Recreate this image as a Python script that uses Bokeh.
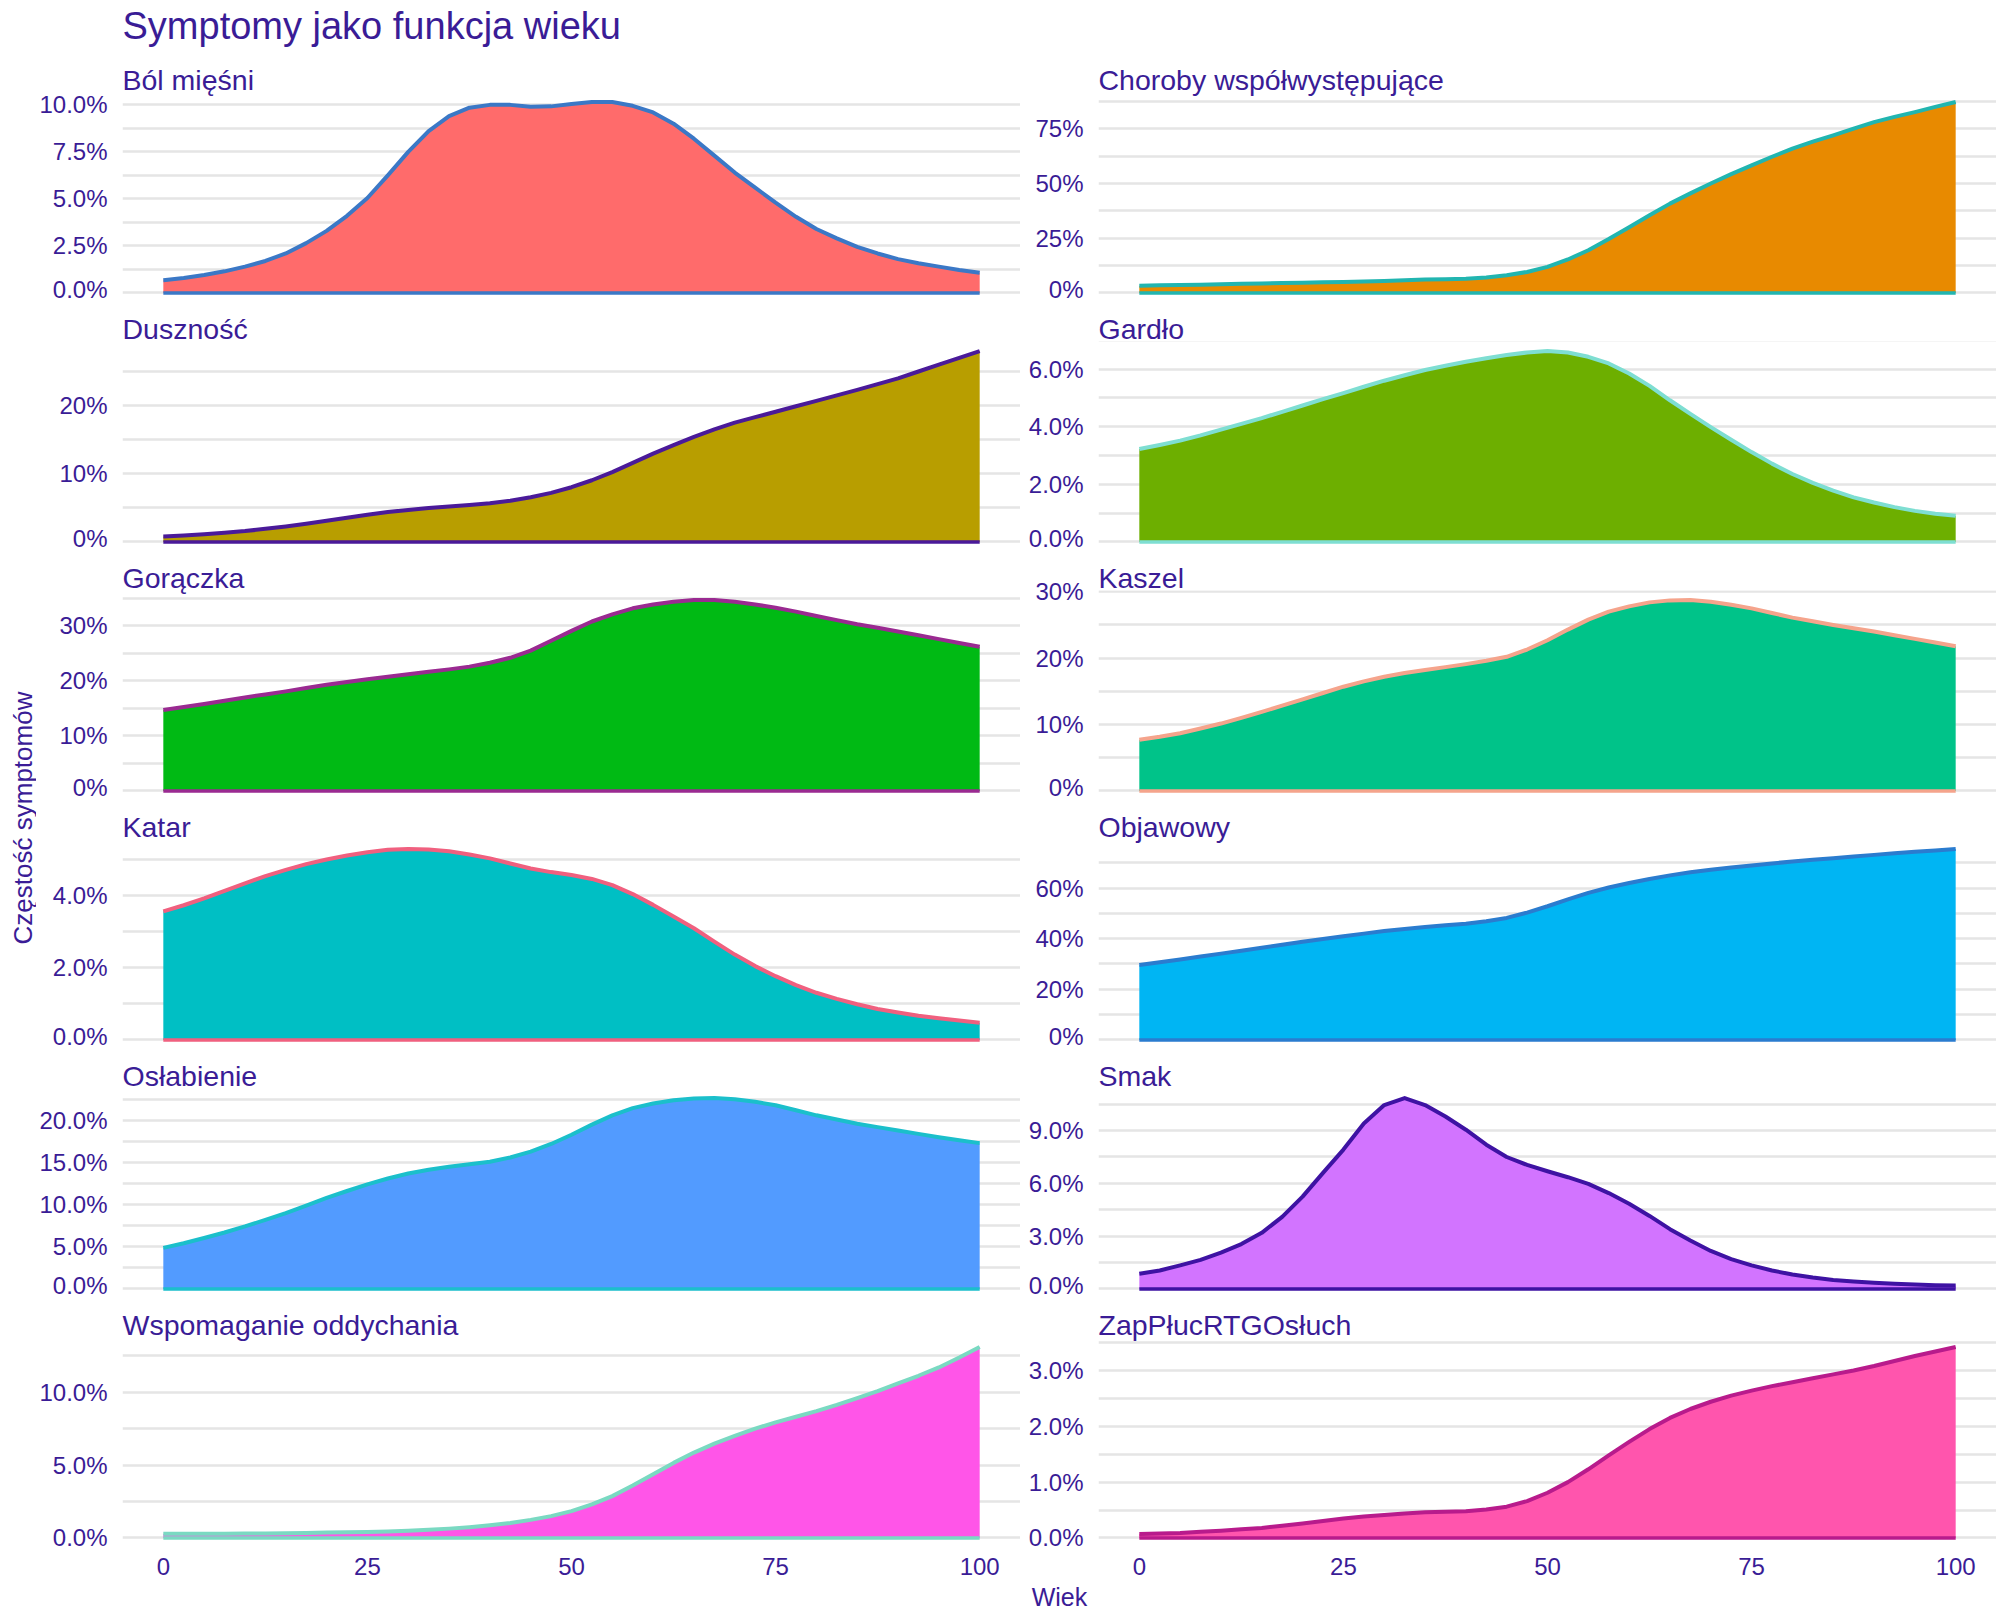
import math
from bokeh.plotting import figure
from bokeh.layouts import row, column
from bokeh.models import Range1d, FixedTicker, PrintfTickFormatter
from bokeh.core.properties import value
from bokeh.embed import file_html
from bokeh.resources import INLINE

# ---------------- data ----------------
main_title = "Symptomy jako funkcja wieku"
x_label = "Wiek"
y_label = "Częstość symptomów"

wiek = [0, 2.5, 5, 7.5, 10, 12.5, 15, 17.5, 20, 22.5, 25, 27.5, 30, 32.5, 35, 37.5, 40,
        42.5, 45, 47.5, 50, 52.5, 55, 57.5, 60, 62.5, 65, 67.5, 70, 72.5, 75, 77.5, 80,
        82.5, 85, 87.5, 90, 92.5, 95, 97.5, 100]
wiek_ticks = [0, 25, 50, 75, 100]

symptomy = ["Ból mięśni", "Choroby współwystępujące", "Duszność", "Gardło",
            "Gorączka", "Kaszel", "Katar", "Objawowy", "Osłabienie", "Smak",
            "Wspomaganie oddychania", "ZapPłucRTGOsłuch"]

# values in percent, read at every 2.5 years of age
bol_miesni = [0.68, 0.8, 0.95, 1.15, 1.4, 1.7, 2.1, 2.65, 3.3, 4.1, 5.05, 6.25, 7.5, 8.6,
              9.4, 9.85, 10.0, 10.0, 9.9, 9.92, 10.05, 10.15, 10.15, 9.95, 9.6, 9.0, 8.2,
              7.3, 6.4, 5.6, 4.8, 4.05, 3.4, 2.9, 2.45, 2.1, 1.8, 1.58, 1.4, 1.22, 1.07]
choroby = [3.3, 3.5, 3.65, 3.8, 4.0, 4.15, 4.3, 4.5, 4.7, 4.85, 5.0, 5.25, 5.5, 5.8,
           6.1, 6.3, 6.5, 7.1, 8.1, 9.6, 11.9, 15.3, 19.5, 24.6, 30.0, 35.5, 40.8, 45.5,
           50.0, 54.3, 58.3, 62.2, 65.9, 69.1, 72.0, 75.1, 78.0, 80.4, 82.6, 85.0, 87.2]
dusznosc = [0.79, 0.95, 1.13, 1.35, 1.6, 1.92, 2.27, 2.67, 3.1, 3.55, 4.0, 4.38, 4.7,
            4.97, 5.2, 5.43, 5.67, 6.05, 6.55, 7.2, 8.03, 9.05, 10.25, 11.6, 12.96, 14.2,
            15.4, 16.5, 17.5, 18.3, 19.1, 19.9, 20.7, 21.5, 22.3, 23.15, 24.0, 25.0,
            26.0, 27.0, 28.0]
gardlo = [3.23, 3.37, 3.52, 3.7, 3.9, 4.1, 4.3, 4.52, 4.74, 4.96, 5.17, 5.39, 5.6, 5.79,
          5.97, 6.12, 6.26, 6.38, 6.49, 6.58, 6.63, 6.58, 6.43, 6.2, 5.85, 5.42, 4.92,
          4.45, 3.99, 3.55, 3.12, 2.72, 2.36, 2.05, 1.78, 1.55, 1.37, 1.21, 1.08, 0.98, 0.91]
goraczka = [14.7, 15.25, 15.8, 16.4, 17.0, 17.55, 18.1, 18.7, 19.3, 19.8, 20.3, 20.75,
            21.2, 21.65, 22.1, 22.6, 23.3, 24.2, 25.5, 27.3, 29.1, 30.8, 32.1, 33.2, 33.9,
            34.4, 34.7, 34.7, 34.4, 33.9, 33.3, 32.6, 31.8, 31.05, 30.3, 29.65, 29.0,
            28.3, 27.6, 26.9, 26.2]
kaszel = [7.7, 8.15, 8.7, 9.4, 10.15, 11.0, 11.9, 12.85, 13.8, 14.75, 15.7, 16.5, 17.2,
          17.75, 18.2, 18.65, 19.1, 19.6, 20.2, 21.3, 22.7, 24.3, 25.8, 27.0, 27.8, 28.4,
          28.7, 28.75, 28.5, 28.05, 27.5, 26.8, 26.1, 25.55, 25.0, 24.5, 24.0, 23.45,
          22.9, 22.35, 21.8]
katar = [3.57, 3.74, 3.93, 4.14, 4.35, 4.55, 4.72, 4.88, 5.01, 5.12, 5.21, 5.28, 5.3,
         5.29, 5.24, 5.15, 5.04, 4.9, 4.76, 4.66, 4.58, 4.47, 4.3, 4.05, 3.75, 3.43, 3.1,
         2.73, 2.37, 2.05, 1.77, 1.52, 1.31, 1.14, 0.99, 0.86, 0.76, 0.67, 0.6, 0.54, 0.48]
objawowy = [29.6, 30.7, 31.8, 32.95, 34.1, 35.25, 36.4, 37.6, 38.8, 39.9, 41.0, 42.0,
            43.0, 43.85, 44.6, 45.3, 45.9, 46.9, 48.2, 50.3, 52.8, 55.5, 58.1, 60.2, 62.0,
            63.6, 65.0, 66.2, 67.2, 68.1, 68.9, 69.7, 70.5, 71.15, 71.8, 72.45, 73.1,
            73.7, 74.3, 74.85, 75.4]
oslabienie = [4.87, 5.42, 6.05, 6.7, 7.42, 8.2, 9.0, 9.9, 10.8, 11.62, 12.4, 13.1, 13.7,
              14.15, 14.5, 14.8, 15.1, 15.6, 16.3, 17.2, 18.3, 19.5, 20.6, 21.45, 22.0,
              22.4, 22.6, 22.65, 22.5, 22.2, 21.8, 21.2, 20.6, 20.1, 19.6, 19.2, 18.8,
              18.4, 18.0, 17.65, 17.3]
smak = [0.86, 1.05, 1.34, 1.65, 2.06, 2.55, 3.19, 4.1, 5.25, 6.6, 7.92, 9.4, 10.45,
        10.85, 10.45, 9.8, 9.05, 8.2, 7.5, 7.05, 6.69, 6.35, 5.97, 5.45, 4.84, 4.15, 3.4,
        2.75, 2.16, 1.7, 1.34, 1.05, 0.82, 0.65, 0.51, 0.42, 0.35, 0.3, 0.25, 0.21, 0.19]
wspomaganie = [0.28, 0.28, 0.28, 0.29, 0.3, 0.31, 0.32, 0.34, 0.37, 0.39, 0.41, 0.45,
               0.5, 0.56, 0.64, 0.74, 0.87, 1.03, 1.24, 1.5, 1.84, 2.3, 2.87, 3.6, 4.37,
               5.15, 5.86, 6.47, 7.0, 7.5, 7.93, 8.32, 8.7, 9.13, 9.6, 10.08, 10.6, 11.13,
               11.7, 12.38, 13.1]
zap_pluc = [0.07, 0.08, 0.09, 0.11, 0.13, 0.155, 0.18, 0.22, 0.26, 0.305, 0.35, 0.385,
            0.41, 0.44, 0.46, 0.47, 0.48, 0.51, 0.56, 0.66, 0.81, 1.0, 1.23, 1.48, 1.72,
            1.95, 2.15, 2.31, 2.44, 2.55, 2.64, 2.72, 2.79, 2.86, 2.93, 3.0, 3.08, 3.17,
            3.26, 3.34, 3.42]

series = [bol_miesni, choroby, dusznosc, gardlo, goraczka, kaszel,
          katar, objawowy, oslabienie, smak, wspomaganie, zap_pluc]

# y tick labels per panel (percent) and decimals of the labels
ticks_bol = [0, 2.5, 5, 7.5, 10]
ticks_choroby = [0, 25, 50, 75]
ticks_dusznosc = [0, 10, 20]
ticks_gardlo = [0, 2, 4, 6]
ticks_goraczka = [0, 10, 20, 30]
ticks_kaszel = [0, 10, 20, 30]
ticks_katar = [0, 2, 4]
ticks_objawowy = [0, 20, 40, 60]
ticks_oslabienie = [0, 5, 10, 15, 20]
ticks_smak = [0, 3, 6, 9]
ticks_wspomaganie = [0, 5, 10]
ticks_zap = [0, 1, 2, 3]
major_ticks = [ticks_bol, ticks_choroby, ticks_dusznosc, ticks_gardlo, ticks_goraczka,
               ticks_kaszel, ticks_katar, ticks_objawowy, ticks_oslabienie, ticks_smak,
               ticks_wspomaganie, ticks_zap]
label_decimals = [1, 0, 0, 1, 0, 0, 1, 0, 1, 1, 1, 1]

fill_colors = ["#FF6B6B", "#E88A00", "#B89E00", "#6DAF00", "#00BA14", "#00C389",
               "#00BFC4", "#00B5F3", "#529BFF", "#D274FF", "#FF55E8", "#FF55AD"]
line_colors = ["#3B78C6", "#21B5B0", "#4A1A99", "#7EDED2", "#9A2A91", "#F5A48C",
               "#F0607F", "#2A7CCF", "#1BBFCB", "#3E13A3", "#7AD9C2", "#B81B8C"]

# ---------------- style / layout ----------------
TXT = "#3a1c96"
FONT = "Liberation Sans"
GRID = "#e5e5e5"

ROW_H = 249
TOP_B = 39
AXIS_B = 35
YLAB_W = 36
LEFT_W, LEFT_B = 984, 86
RIGHT_W, RIGHT_B = 976, 78
TITLE_H = 53
XLAB_H = 33
GRID_H = 5 * ROW_H + ROW_H + AXIS_B
TOTAL_W = YLAB_W + LEFT_W + RIGHT_W


def blank(width, height):
    f = figure(width=width, height=height, x_range=Range1d(0, width), y_range=Range1d(height, 0),
               x_axis_location=None, y_axis_location=None, toolbar_location=None,
               output_backend="svg", min_border=0)
    f.outline_line_color = None
    f.grid.visible = False
    return f


left_figs, right_figs = [], []
for i, name in enumerate(symptomy):
    col = i % 2
    r = i // 2
    bottom = (r == 5)
    vals = series[i]
    zeros = [0 * v for v in vals]
    M = max(vals)
    w, mbl = (LEFT_W, LEFT_B) if col == 0 else (RIGHT_W, RIGHT_B)
    h = ROW_H + (AXIS_B if bottom else 0)
    p = figure(width=w, height=h, x_range=Range1d(-5, 105),
               y_range=Range1d(-0.05 * M, 1.05 * M),
               x_axis_location="below" if bottom else None,
               toolbar_location=None, output_backend="svg", title=name,
               min_border_left=mbl, min_border_right=0, min_border_top=TOP_B,
               min_border_bottom=AXIS_B if bottom else 0)
    p.outline_line_color = None
    p.background_fill_color = "white"
    p.border_fill_color = "white"

    p.title.text_font = FONT
    p.title.text_font_size = "28.5px"
    p.title.text_font_style = "normal"
    p.title.text_color = TXT
    p.title.align = "left"
    p.title.standoff = -6

    mt = major_ticks[i]
    step = mt[1] - mt[0]
    minor = [t + step / 2 for t in mt]
    ticker = FixedTicker(ticks=mt, minor_ticks=minor)
    p.yaxis.ticker = ticker
    p.ygrid.ticker = ticker
    p.yaxis.formatter = PrintfTickFormatter(format="%%.%df%%%%" % label_decimals[i])
    p.yaxis.major_label_text_font = FONT
    p.yaxis.major_label_text_font_size = "24px"
    p.yaxis.major_label_text_color = TXT
    p.yaxis.axis_line_color = None
    p.yaxis.major_tick_line_color = None
    p.yaxis.minor_tick_line_color = None
    p.yaxis.major_label_standoff = 9

    p.xgrid.grid_line_color = None
    p.ygrid.grid_line_color = GRID
    p.ygrid.grid_line_width = 2.5
    p.ygrid.minor_grid_line_color = GRID
    p.ygrid.minor_grid_line_width = 2.5

    if bottom:
        p.xaxis.ticker = FixedTicker(ticks=wiek_ticks)
        p.xaxis.major_label_text_font = FONT
        p.xaxis.major_label_text_font_size = "24px"
        p.xaxis.major_label_text_color = TXT
        p.xaxis.axis_line_color = None
        p.xaxis.major_tick_line_color = None
        p.xaxis.minor_tick_line_color = None
        p.xaxis.major_label_standoff = 4

    p.varea(x=wiek, y1=zeros, y2=vals, fill_color=fill_colors[i])
    p.line(wiek, vals, line_color=line_colors[i], line_width=4, line_join="round")
    p.line(wiek, zeros, line_color=line_colors[i], line_width=3.5)

    (left_figs if col == 0 else right_figs).append(p)

# main title
tf = blank(TOTAL_W, TITLE_H)
tf.text(x=[YLAB_W + LEFT_B], y=[25], text=[main_title], text_font=value(FONT),
        text_font_size=value("38px"), text_color=TXT, text_align="left",
        text_baseline="middle")

# y axis title
yf = blank(YLAB_W, GRID_H)
yf.text(x=[22], y=[GRID_H / 2], text=[y_label], text_font=value(FONT),
        text_font_size=value("26px"), text_color=TXT, text_align="center",
        text_baseline="middle", angle=math.pi / 2)

# x axis title
xf = blank(TOTAL_W, XLAB_H)
xf.text(x=[1059], y=[14], text=[x_label], text_font=value(FONT),
        text_font_size=value("25px"), text_color=TXT, text_align="center",
        text_baseline="middle")

layout = column(tf, row(yf, column(*left_figs), column(*right_figs)), xf)

open("out.html", "w").write(file_html(layout, INLINE, title="Symptomy jako funkcja wieku"))
